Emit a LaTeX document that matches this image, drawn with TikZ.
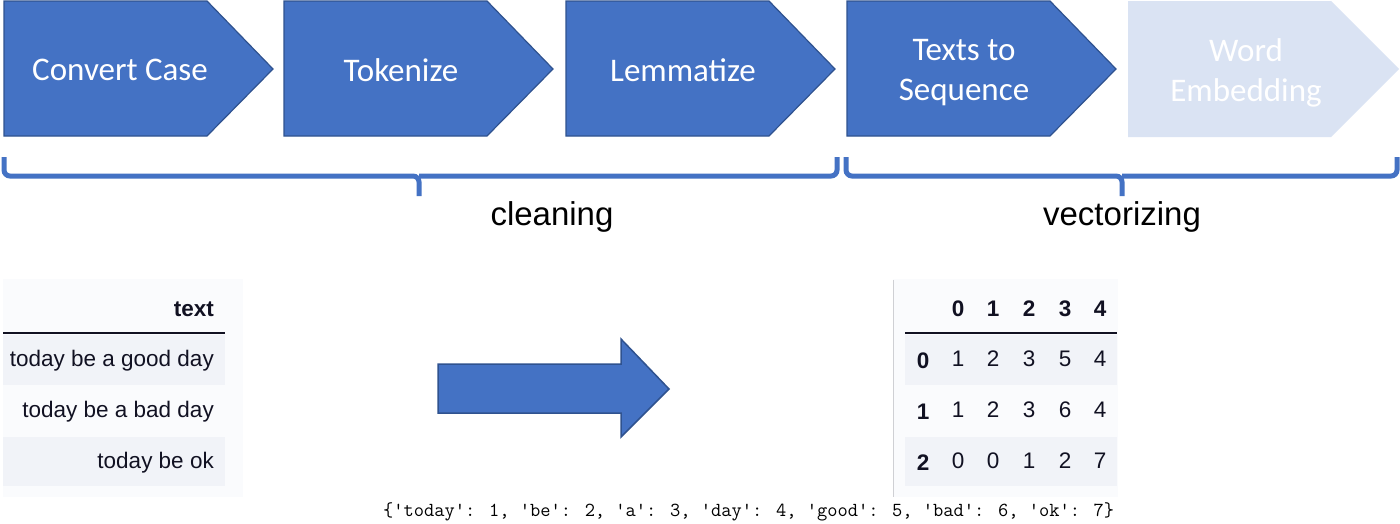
\documentclass[tikz,border=0pt]{standalone}
\usepackage{fontspec}
\newfontfamily\cali{Carlito}
\newfontfamily\arial{Liberation Sans}
\definecolor{chevblue}{HTML}{4472C4}
\definecolor{chevedge}{HTML}{2F528F}
\definecolor{chevlight}{HTML}{DAE3F3}
\definecolor{panelbg}{HTML}{FAFBFD}
\definecolor{rowbg}{HTML}{F1F3F8}
\definecolor{tabtext}{HTML}{111122}
\begin{document}
\begin{tikzpicture}[x=1pt,y=-1pt,
  chev/.style={fill=chevblue,draw=chevedge,line width=1.2pt},
  chevpale/.style={fill=chevlight,draw=none},
  chevtext/.style={text=white,font=\cali\fontsize{33}{40}\selectfont,align=center,inner sep=0pt},
  bracket/.style={draw=chevblue,line width=5pt,rounded corners=6pt},
  grouplabel/.style={font=\arial\fontsize{33}{38}\selectfont,text=black,inner sep=0pt},
  celltext/.style={font=\arial\fontsize{22.5}{26}\selectfont,text=tabtext,inner sep=0pt,anchor=base east},
  headtext/.style={font=\arial\bfseries\fontsize{22.5}{26}\selectfont,text=tabtext,inner sep=0pt,anchor=base east},
  numtext/.style={font=\arial\fontsize{22.5}{26}\selectfont,text=tabtext,inner sep=0pt,anchor=base},
  numhead/.style={font=\arial\bfseries\fontsize{22.5}{26}\selectfont,text=tabtext,inner sep=0pt,anchor=base},
  bigarrow/.style={fill=chevblue,draw=chevedge,line width=1.5pt}
]
\useasboundingbox (0,0) rectangle (1400,523);
\fill[white] (0,0) rectangle (1400,523);

% chevrons
\draw[chev] (4,1) -- (207,1) -- (273,69) -- (207,136) -- (4,136) -- cycle;
\draw[chev] (284,1) -- (487,1) -- (553,69) -- (487,136) -- (284,136) -- cycle;
\draw[chev] (566,1) -- (769,1) -- (835,69) -- (769,136) -- (566,136) -- cycle;
\draw[chev] (847,1) -- (1050,1) -- (1116,69) -- (1050,136) -- (847,136) -- cycle;
\fill[chevpale] (1128,1) -- (1331,1) -- (1399,69) -- (1331,137) -- (1128,137) -- cycle;

\node[chevtext] (c1) at (120,70) {Convert Case};
\node[chevtext] (c2) at (401,70) {Tokenize};
\node[chevtext] (c3) at (683,70) {Lemmatize};
\node[chevtext] (c4) at (964,73) {Texts to\\Sequence};
\node[chevtext] (c5) at (1246,73) {Word\\Embedding};

% brackets
\coordinate (b1l) at (4,157);
\coordinate (b1m) at (419,176);
\coordinate (b1t) at (419,196);
\coordinate (b1r) at (837,157);
\draw[bracket] (b1l) |- (b1m) -- (b1t);
\draw[bracket] (b1m) -| (b1r);
\coordinate (b2l) at (846,157);
\coordinate (b2m) at (1122,176);
\coordinate (b2t) at (1122,196);
\coordinate (b2r) at (1397,157);
\draw[bracket] (b2l) |- (b2m) -- (b2t);
\draw[bracket] (b2m) -| (b2r);

\node[grouplabel] (clean) at (552,217) {cleaning};
\node[grouplabel] (vect) at (1122,217) {vectorizing};

% left table
\fill[panelbg] (3,279) rectangle (243,497);
\fill[rowbg] (3,335) rectangle (225,385);
\fill[rowbg] (3,437) rectangle (225,486);
\draw[tabtext,line width=1.5pt] (3,333) -- (225,333);
\node[headtext] (th) at (214,316) {text};
\node[celltext] (t1) at (214,366) {today be a good day};
\node[celltext] (t2) at (214,417) {today be a bad day};
\node[celltext] (t3) at (214,468) {today be ok};

% arrow
\draw[bigarrow] (438,364) -- (621,364) -- (621,339) -- (669,389) -- (621,437) -- (621,413) -- (438,413) -- cycle;

% right table
\fill[panelbg] (893,279) rectangle (1118,497);
\draw[rowbg!70!gray,line width=0.6pt] (893,280) -- (893,497);
\fill[rowbg] (905,335) rectangle (1117,385);
\fill[rowbg] (905,437) rectangle (1117,486);
\draw[tabtext,line width=1.5pt] (905,333) -- (1117,333);
\node[numhead] (h0) at (958,316) {0};
\node[numhead] (h1) at (993,316) {1};
\node[numhead] (h2) at (1029,316) {2};
\node[numhead] (h3) at (1065,316) {3};
\node[numhead] (h4) at (1100,316) {4};
\node[numhead] (r0) at (923,368) {0};
\node[numhead] (r1) at (923,419) {1};
\node[numhead] (r2) at (923,470) {2};
\node[numtext] (v00) at (958,366) {1};
\node[numtext] (v01) at (993,366) {2};
\node[numtext] (v02) at (1029,366) {3};
\node[numtext] (v03) at (1065,366) {5};
\node[numtext] (v04) at (1100,366) {4};
\node[numtext] (v10) at (958,417) {1};
\node[numtext] (v11) at (993,417) {2};
\node[numtext] (v12) at (1029,417) {3};
\node[numtext] (v13) at (1065,417) {6};
\node[numtext] (v14) at (1100,417) {4};
\node[numtext] (v20) at (958,468) {0};
\node[numtext] (v21) at (993,468) {0};
\node[numtext] (v22) at (1029,468) {1};
\node[numtext] (v23) at (1065,468) {2};
\node[numtext] (v24) at (1100,468) {7};

% dictionary
\node[font=\ttfamily\fontsize{19.9}{22}\selectfont,text=black,inner sep=0pt,anchor=base west] (dict) at (383,516) {\{'today': 1, 'be': 2, 'a': 3, 'day': 4, 'good': 5, 'bad': 6, 'ok': 7\}};
\end{tikzpicture}
\end{document}
